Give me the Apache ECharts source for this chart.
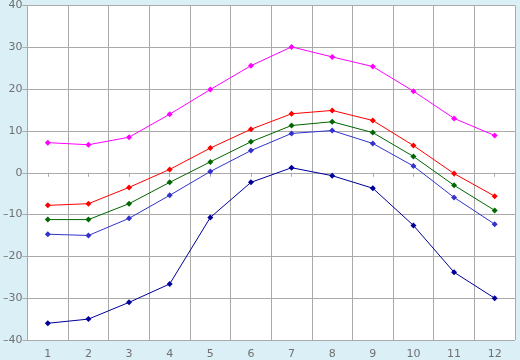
<!DOCTYPE html>
<html><head><meta charset="utf-8">
<script src="https://cdn.jsdelivr.net/npm/echarts@6/dist/echarts.min.js"></script>
<style>html,body{margin:0;padding:0;background:#dbeff7;}#c{width:520px;height:360px;}</style>
</head><body><div id="c"></div>
<script>
const categories = ['1','2','3','4','5','6','7','8','9','10','11','12'];
const magenta = [7.2, 6.7, 8.5, 14.0, 19.9, 25.6, 30.1, 27.7, 25.4, 19.5, 13.0, 8.9];
const red = [-7.8, -7.4, -3.5, 0.8, 5.9, 10.4, 14.1, 14.9, 12.5, 6.5, -0.2, -5.6];
const green = [-11.2, -11.2, -7.4, -2.3, 2.6, 7.4, 11.3, 12.2, 9.6, 3.9, -3.0, -9.0];
const blue = [-14.7, -15.0, -10.9, -5.4, 0.3, 5.3, 9.4, 10.1, 7.0, 1.6, -5.9, -12.3];
const navy = [-36.0, -35.0, -31.0, -26.6, -10.7, -2.3, 1.2, -0.7, -3.7, -12.6, -23.8, -30.0];

const seriesList = [
  {data: magenta, color: '#ff00ff'},
  {data: red, color: '#ff0000'},
  {data: green, color: '#006600'},
  {data: blue, color: '#3333cc'},
  {data: navy, color: '#000099'}
];

const chart = echarts.init(document.getElementById('c'), null, {renderer: 'canvas'});
chart.setOption({
  backgroundColor: '#dbeff7',
  animation: false,
  grid: {left: 26, top: 5, right: 5, bottom: 20, show: true, backgroundColor: '#ffffff', borderWidth: 0},
  xAxis: {
    type: 'category', data: categories, boundaryGap: true,
    axisLine: {lineStyle: {color: '#aaaaaa', width: 1}},
    axisTick: {show: true, alignWithLabel: true, length: 4, lineStyle: {color: '#aaaaaa'}},
    axisLabel: {color: '#707070', fontSize: 11, fontFamily: 'DejaVu Sans', margin: 9},
    splitLine: {show: true, lineStyle: {color: '#aaaaaa', width: 1}}
  },
  yAxis: {
    type: 'value', min: -40, max: 40, interval: 10,
    axisLine: {show: true, lineStyle: {color: '#aaaaaa', width: 1}},
    axisTick: {show: true, length: 5, lineStyle: {color: '#aaaaaa'}},
    axisLabel: {color: '#707070', fontSize: 11, fontFamily: 'DejaVu Sans', margin: 5,
      formatter: v => (v < 0 ? '\u2013' + Math.abs(v) : String(v))},
    splitLine: {show: true, lineStyle: {color: '#aaaaaa', width: 1}}
  },
  series: seriesList.map(s => ({
    type: 'line', data: s.data, symbol: 'diamond', symbolSize: 6,
    lineStyle: {color: s.color, width: 1}, itemStyle: {color: s.color},
    emphasis: {disabled: true}
  }))
});
</script></body></html>
